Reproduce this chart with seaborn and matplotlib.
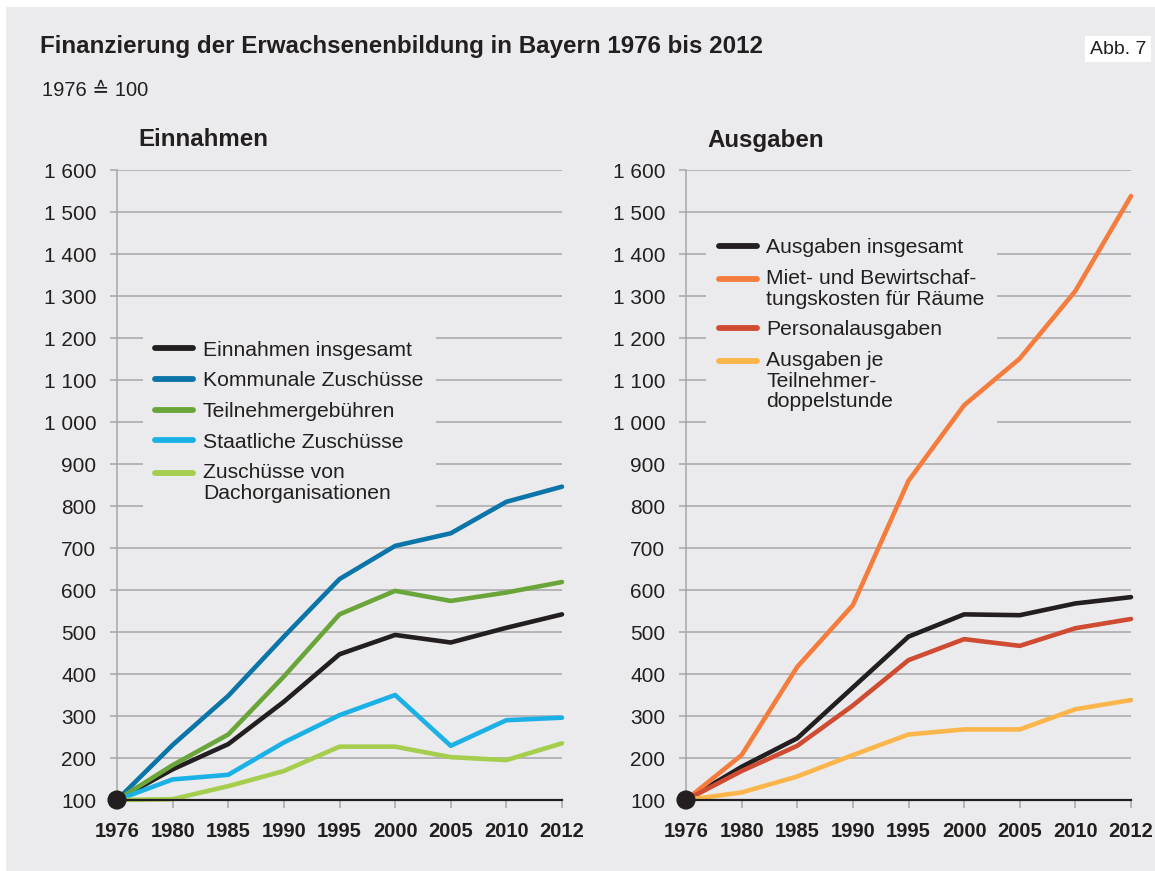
import numpy as np
import pandas as pd
import matplotlib
matplotlib.use("Agg")
import matplotlib.pyplot as plt
from matplotlib.ticker import FuncFormatter, MultipleLocator
from matplotlib.patches import Rectangle
import seaborn as sns

# ---------------- data ----------------
years = ["1976", "1980", "1985", "1990", "1995", "2000", "2005", "2010", "2012"]

einnahmen_labels = ["Einnahmen insgesamt", "Kommunale Zuschüsse", "Teilnehmergebühren",
                    "Staatliche Zuschüsse", "Zuschüsse von\nDachorganisationen"]
einnahmen_insgesamt = [100, 173, 233, 334, 447, 493, 475, 510, 542]
kommunale_zuschuesse = [100, 231, 348, 489, 626, 705, 735, 810, 846]
teilnehmergebuehren = [100, 183, 256, 394, 542, 598, 574, 594, 619]
staatliche_zuschuesse = [100, 149, 160, 237, 302, 350, 229, 290, 296]
dachorganisationen = [100, 102, 133, 169, 227, 227, 202, 195, 235]

ausgaben_labels = ["Ausgaben insgesamt", "Miet- und Bewirtschaf-\ntungskosten für Räume",
                   "Personalausgaben", "Ausgaben je\nTeilnehmer-\ndoppelstunde"]
ausgaben_insgesamt = [100, 179, 247, 368, 489, 542, 540, 568, 583]
miet_bewirtschaftung = [100, 207, 417, 564, 860, 1040, 1151, 1312, 1538]
personalausgaben = [100, 169, 229, 325, 433, 483, 467, 509, 531]
ausgaben_je_tn = [100, 118, 156, 207, 256, 268, 268, 316, 338]

base_year = years[0]
base_value = 100

einnahmen_colors = ["#231f20", "#0b74a8", "#6aa539", "#1bb1e6", "#a5cd4e"]
ausgaben_colors = ["#231f20", "#f47d3e", "#cf4b32", "#fcb54b"]

# ---------------- style ----------------
BG = "#ebebed"
GRID = "#a6a6a8"
DARK = "#231f20"
sns.set_style("white")
FAM = ["Liberation Sans", "DejaVu Sans"]
plt.rcParams["font.family"] = FAM
plt.rcParams["text.color"] = DARK


def long_df(labels, series):
    rows = []
    for lab, vals in zip(labels, series):
        for y, v in zip(years, vals):
            rows.append({"Jahr": y, "Index": v, "Reihe": lab})
    return pd.DataFrame(rows)


df_ein = long_df(einnahmen_labels, [einnahmen_insgesamt, kommunale_zuschuesse, teilnehmergebuehren,
                                    staatliche_zuschuesse, dachorganisationen])
df_aus = long_df(ausgaben_labels, [ausgaben_insgesamt, miet_bewirtschaftung, personalausgaben,
                                   ausgaben_je_tn])

fig = plt.figure(figsize=(11.55, 8.71), dpi=100, facecolor="white")
fig.patches.append(Rectangle((6 / 1155, 0), 1, 1 - 7 / 871, transform=fig.transFigure,
                             facecolor=BG, edgecolor="none", zorder=-10))

W, H = 1155, 871
ax_l = fig.add_axes([117 / W, 1 - 800 / H, 445 / W, 630 / H])
ax_r = fig.add_axes([686 / W, 1 - 800 / H, 445 / W, 630 / H])

fmt = FuncFormatter(lambda v, p: f"{int(round(v)):,}".replace(",", " "))


def draw_panel(ax, df, labels, colors, legend_anchor):
    ax.set_facecolor(BG)
    sns.lineplot(data=df, x="Jahr", y="Index", hue="Reihe", hue_order=labels,
                 palette=colors, linewidth=3.3, ax=ax, sort=False, estimator=None)
    for ln in ax.get_lines():
        ln.set_clip_on(False)
        ln.set_solid_capstyle("round")
        ln.set_solid_joinstyle("round")
    sns.scatterplot(x=[base_year], y=[base_value], color=DARK, s=190, ax=ax,
                    zorder=10, clip_on=False, edgecolor="none")
    ax.set_xlim(0, len(years) - 1)
    ax.set_ylim(100, 1600)
    ax.yaxis.set_major_locator(MultipleLocator(100))
    ax.yaxis.set_major_formatter(fmt)
    ax.set_axisbelow(True)
    ax.grid(axis="y", color=GRID, linewidth=1.1)
    ax.grid(axis="x", visible=False)
    ax.set_xlabel("")
    ax.set_ylabel("")
    for s in ["top", "right"]:
        ax.spines[s].set_visible(False)
    ax.spines["left"].set_color(GRID)
    ax.spines["left"].set_linewidth(1.1)
    ax.spines["bottom"].set_color(DARK)
    ax.spines["bottom"].set_linewidth(1.6)
    ax.spines["bottom"].set_zorder(3)
    ax.tick_params(axis="y", length=5, width=1.1, color=GRID, pad=10,
                   labelsize=15, labelcolor=DARK, left=True)
    ax.tick_params(axis="x", length=6, width=1.1, color=GRID, pad=9.5,
                   labelsize=14.5, labelcolor=DARK, bottom=True)
    for t in ax.get_xticklabels():
        t.set_fontweight("bold")
    ax.yaxis.get_major_ticks()[0].tick1line.set_color(DARK)
    sns.move_legend(ax, "upper left", bbox_to_anchor=legend_anchor, title=None,
                    frameon=True, fontsize=15.2, handlelength=1.8, handletextpad=0.45,
                    labelspacing=0.55, borderpad=0.6, borderaxespad=0,
                    facecolor=BG, edgecolor="none", framealpha=1, fancybox=False)
    leg = ax.get_legend()
    leg.set_zorder(1)
    for h in leg.legend_handles:
        h.set_linewidth(4.2)
        h.set_solid_capstyle("round")
    for t in leg.get_texts():
        t.set_linespacing(1.12)
        t.set_color(DARK)
    return leg


leg_l = draw_panel(ax_l, df_ein, einnahmen_labels, einnahmen_colors, (0.058, 0.749))
leg_r = draw_panel(ax_r, df_aus, ausgaben_labels, ausgaben_colors, (0.045, 0.912))

# texts
fig.text(40 / W, 1 - 47 / H, "Finanzierung der Erwachsenenbildung in Bayern 1976 bis 2012",
         fontsize=17.4, fontweight="bold", ha="left", va="center")
fig.text(42 / W, 1 - 90 / H, "1976 \u2259 100", fontsize=14.5, ha="left", va="center")
fig.text(138 / W, 1 - 140 / H, "Einnahmen", fontsize=17.4, fontweight="bold", ha="left", va="center")
fig.text(707 / W, 1 - 140 / H, "Ausgaben", fontsize=17.4, fontweight="bold", ha="left", va="center")
fig.text(1146 / W, 1 - 49 / H, "Abb. 7", fontsize=14, ha="right", va="center",
         bbox=dict(facecolor="white", edgecolor="none", pad=3.5))

# align multi-line legend handles with the first text line
fig.canvas.draw()
r = fig.canvas.get_renderer()
for leg in (leg_l, leg_r):
    for h, t in zip(leg.legend_handles, leg.get_texts()):
        n = t.get_text().count("\n") + 1
        if n > 1:
            bb = t.get_window_extent(r)
            target = bb.y1 - bb.height / n / 2
            xd = np.asarray(h.get_xdata(), float)
            yd = np.asarray(h.get_ydata(), float)
            cur = h.get_transform().transform((xd[0], yd[0]))[1]
            h.set_ydata(yd + (target - cur) * 72 / fig.dpi)

fig.savefig("out.png", dpi=100, facecolor="white")
